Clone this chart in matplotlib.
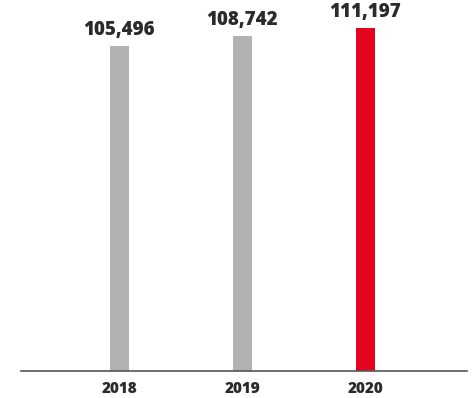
import matplotlib
matplotlib.use("Agg")
import matplotlib.pyplot as plt

years = ["2018", "2019", "2020"]
values = [105496, 108742, 111197]
colors = ["#b2b2b2", "#b2b2b2", "#e30520"]

W, H = 476, 398
fig = plt.figure(figsize=(W / 100, H / 100), dpi=100)
ax = fig.add_axes([21 / W, 27 / H, 446 / W, 371 / H])

x = list(range(len(years)))
ax.bar(x, values, width=0.155, color=colors)
ax.set_xlim(-0.80, 2.825)
ax.set_ylim(0, 120400)

for xi, v in zip(x, values):
    ax.annotate(f"{v:,}", (xi, v), xytext=(0, 8), textcoords="offset points",
                ha="center", va="baseline", fontsize=13.5, fontweight=800,
                color="#2b2b2b", family=["Open Sans", "DejaVu Sans"])

ax.set_xticks(x)
ax.set_xticklabels(years, fontsize=11, fontweight=800, color="#2b2b2b",
                   family="Open Sans")
ax.tick_params(axis="x", length=0, pad=7)
ax.set_yticks([])
for s in ["top", "left", "right"]:
    ax.spines[s].set_visible(False)
ax.spines["bottom"].set_color("#555555")
ax.spines["bottom"].set_linewidth(1.2)

fig.savefig("out.png", dpi=100)
